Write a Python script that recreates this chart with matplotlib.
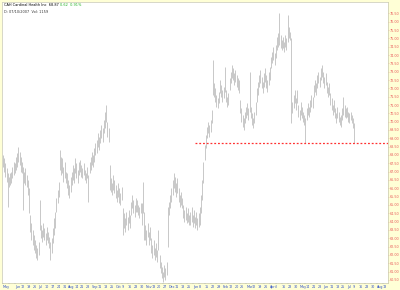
import pandas as pd
import matplotlib.pyplot as plt

# daily bars, first trading day 2006-05-22
start_date = "2006-05-22"

highs = [
    68.0, 67.8, 67.5, 67.2, 66.9, 66.7, 66.9, 67.0, 67.3, 67.6,
    67.5, 67.9, 68.1, 68.5, 68.2, 67.9, 67.6, 67.3, 67.0, 67.2,
    66.8, 66.5, 66.0, 64.4, 63.9, 63.5, 63.2, 62.9, 62.6, 62.4,
    62.8, 65.3, 63.8, 63.5, 63.9, 63.6, 63.3, 63.7, 63.4, 63.1,
    62.8, 63.0, 63.6, 64.2, 64.6, 65.4, 65.9, 66.4, 68.3, 67.9,
    67.8, 67.3, 67.6, 67.0, 66.9, 66.5, 66.2, 66.7, 67.0, 67.4,
    67.2, 67.8, 67.5, 67.1, 67.6, 67.7, 67.4, 67.2, 67.5, 67.1,
    66.9, 67.3, 66.8, 67.6, 67.9, 68.2, 68.0, 68.4, 68.7, 68.9,
    69.3, 69.1, 69.5, 69.8, 69.6, 70.1, 70.6, 71.0, 70.0, 69.6,
    67.4, 66.6, 66.3, 66.8, 66.5, 66.2, 65.9, 66.3, 66.0, 65.7,
    66.1, 64.8, 64.5, 64.2, 64.6, 64.3, 64.7, 64.4, 65.2, 65.6,
    65.3, 65.0, 65.4, 65.3, 65.0, 64.9, 65.1, 65.1, 66.4, 64.6,
    63.8, 63.5, 63.9, 63.4, 63.7, 63.0, 62.6, 62.9, 62.4, 62.7,
    62.3, 63.5, 62.0, 61.6, 61.3, 61.0, 61.4, 61.2, 61.6, 64.9,
    65.2, 65.6, 66.0, 66.5, 66.9, 66.7, 66.3, 66.6, 66.0, 65.6,
    65.8, 65.4, 65.0, 64.7, 64.9, 64.5, 64.8, 64.4, 64.6, 64.9,
    64.4, 64.7, 64.3, 64.6, 64.2, 64.5, 64.9, 65.6, 66.5, 67.6,
    68.6, 69.2, 69.7, 70.0, 69.8, 70.1, 70.7, 73.7, 72.3, 72.0,
    71.6, 71.4, 71.8, 72.5, 72.2, 71.9, 72.1, 73.3, 71.9, 71.5,
    71.7, 72.6, 73.0, 73.4, 73.2, 72.9, 73.1, 72.8, 72.6, 72.5,
    71.3, 70.8, 70.4, 70.2, 70.6, 70.9, 71.1, 70.8, 73.0, 70.9,
    70.5, 70.2, 70.6, 71.2, 72.0, 72.4, 72.8, 73.1, 72.7, 72.4,
    72.9, 73.2, 72.8, 72.5, 73.0, 73.3, 73.9, 74.2, 74.5, 74.1,
    74.6, 75.1, 75.3, 76.5, 75.2, 74.9, 75.1, 74.8, 75.2, 75.0,
    76.4, 75.7, 75.4, 75.0, 71.2, 71.6, 71.9, 71.4, 71.9, 71.0,
    70.7, 71.2, 70.9, 70.6, 70.4, 70.2, 70.8, 71.1, 70.9, 71.3,
    71.6, 71.5, 72.2, 72.5, 72.3, 72.8, 73.0, 72.7, 73.2, 73.4,
    73.0, 72.7, 72.9, 72.4, 72.1, 72.3, 71.7, 71.4, 71.0, 71.3,
    70.8, 70.5, 70.9, 70.6, 70.3, 70.4, 70.8, 71.5, 71.0, 70.8,
    70.9, 70.6, 70.5, 70.6, 70.4, 70.2, 69.9,
]

lows = [
    67.3, 67.0, 66.7, 66.4, 64.9, 66.1, 66.2, 66.3, 66.6, 66.8,
    66.9, 67.1, 67.3, 67.6, 67.4, 67.0, 66.9, 64.7, 66.3, 66.2,
    66.1, 65.6, 64.5, 63.4, 62.9, 62.6, 62.3, 62.1, 61.8, 61.7,
    62.0, 63.5, 63.0, 62.8, 63.1, 62.9, 62.6, 62.9, 62.7, 62.4,
    61.7, 62.1, 62.7, 63.2, 63.6, 64.6, 65.1, 65.5, 67.1, 66.8,
    66.9, 66.4, 66.6, 66.3, 66.0, 65.6, 65.4, 65.8, 66.2, 66.5,
    66.3, 66.9, 66.6, 66.3, 66.8, 67.0, 66.7, 66.6, 66.8, 66.5,
    66.3, 66.6, 65.2, 66.9, 67.1, 67.4, 67.3, 67.6, 68.0, 68.1,
    68.5, 68.3, 68.7, 69.0, 68.8, 69.3, 69.6, 70.0, 69.1, 68.8,
    65.9, 65.8, 65.6, 65.9, 65.7, 65.4, 65.2, 65.5, 65.1, 65.0,
    65.3, 63.2, 63.6, 63.4, 63.8, 63.5, 63.9, 63.6, 64.4, 64.8,
    64.5, 64.3, 64.6, 64.6, 64.4, 64.2, 64.5, 63.8, 64.5, 62.9,
    62.9, 62.6, 63.1, 62.6, 62.9, 62.1, 61.8, 62.0, 61.7, 61.9,
    61.6, 62.3, 61.2, 60.9, 60.6, 60.4, 60.7, 60.5, 60.8, 62.5,
    64.4, 64.8, 65.2, 65.6, 66.0, 65.8, 65.5, 65.7, 65.2, 64.9,
    65.0, 64.8, 64.2, 64.0, 64.1, 63.9, 64.0, 63.8, 63.8, 64.0,
    63.7, 63.9, 63.6, 63.8, 63.5, 63.7, 63.8, 64.5, 65.3, 66.3,
    67.7, 68.4, 69.0, 69.3, 69.1, 69.4, 69.9, 71.6, 71.5, 71.2,
    70.9, 70.8, 71.1, 71.7, 71.5, 71.2, 71.4, 71.8, 71.2, 70.9,
    71.0, 71.9, 72.3, 72.6, 72.5, 72.2, 72.4, 72.1, 71.9, 71.7,
    70.5, 70.0, 69.7, 69.5, 69.9, 70.2, 70.4, 70.1, 70.6, 70.2,
    69.8, 69.6, 69.9, 70.4, 71.2, 71.6, 72.1, 72.3, 72.0, 71.7,
    72.1, 72.4, 72.0, 71.8, 72.2, 72.5, 73.2, 73.5, 73.7, 73.4,
    73.8, 74.3, 74.5, 74.6, 74.4, 74.3, 74.4, 74.2, 74.5, 74.3,
    74.8, 75.0, 74.9, 69.9, 70.5, 70.8, 71.1, 70.7, 71.1, 70.3,
    70.1, 70.4, 70.2, 70.0, 69.8, 68.75, 70.1, 70.4, 70.3, 70.6,
    70.9, 70.8, 71.5, 71.8, 71.6, 72.0, 72.3, 72.1, 72.5, 72.7,
    72.3, 72.0, 72.2, 71.7, 71.5, 71.6, 71.0, 70.7, 70.4, 70.6,
    70.2, 69.9, 70.2, 70.0, 69.8, 69.7, 70.1, 70.4, 70.3, 70.2,
    70.3, 70.0, 69.9, 70.1, 69.9, 69.6, 68.75,
]

# support line
support_level = 68.75
support_from = "2007-01-03"

# weekly x labels (Mondays from 2006-05-22), blanks where the chart skips one
tick_labels = [
    "May", "", "Jun", "12", "19", "26", "Jul", "10", "17", "24", "31",
    "Aug", "14", "21", "28", "Sep", "11", "18", "25", "Oct", "9", "16",
    "23", "30", "Nov", "13", "20", "27", "Dec", "11", "18", "25",
    "Jan", "8", "15", "22", "29", "Feb", "12", "20", "26", "Mar", "12",
    "19", "26", "April", "", "16", "23", "30", "May", "14", "21", "28",
    "Jun", "11", "18", "25", "Jul", "9", "16", "23", "30", "Aug", "13",
]

y_ticks = [60.5 + 0.5 * k for k in range(33)]

title_left = "CAH Cardinal Health Inc  68.87"
title_change = "0.62  0.91%"
sub_title = "D: 07/10/2007  Vol: 1159"

# index trading days so the right side keeps room for future dates
days = pd.bdate_range(start_date, "2007-08-31")
pos = pd.Series(range(len(days)), index=days)
x = list(range(len(highs)))

mondays = pd.date_range(start_date, periods=len(tick_labels), freq="W-MON")
tick_pos = [pos[pos.index >= d].iloc[0] for d in mondays]

fig = plt.figure(figsize=(4, 2.9), dpi=100, facecolor="#ffffd6")
ax = fig.add_axes([2 / 400, 1 - 283 / 290, 386 / 400, 281 / 290])
ax.set_facecolor("white")

ax.vlines(x, lows, highs, color="#b2b2b2", linewidth=0.5)

x_sup = pos[pd.Timestamp(support_from)]
ax.plot([x_sup, 330], [support_level, support_level], color="#ff3030",
        linestyle=(0, (1.5, 1.5)), linewidth=0.9)

ax.set_xlim(-0.8, 324.6)
ax.set_ylim(60.32, 77.18)

ax.yaxis.tick_right()
ax.set_yticks(y_ticks)
ax.set_yticklabels(["%.2f" % v for v in y_ticks], fontsize=2.4)
ax.set_xticks(tick_pos)
ax.set_xticklabels(tick_labels, fontsize=2.4, ha="left")
ax.tick_params(axis="y", length=0.6, width=0.3, pad=0.6, colors="#e85a5a")
ax.tick_params(axis="x", length=0.8, width=0.3, pad=0.8, colors="#3050c8")

for s in ax.spines.values():
    s.set_color("#c8c8b0")
    s.set_linewidth(0.5)

ax.text(0.004, 0.996, title_left, transform=ax.transAxes, fontsize=2.5,
        va="top", ha="left", color="black")
ax.text(0.15, 0.996, title_change, transform=ax.transAxes, fontsize=2.5,
        va="top", ha="left", color="#20b020")
ax.text(0.004, 0.972, sub_title, transform=ax.transAxes, fontsize=2.5,
        va="top", ha="left", color="#333333")

fig.savefig("out.png", dpi=100, facecolor=fig.get_facecolor())
